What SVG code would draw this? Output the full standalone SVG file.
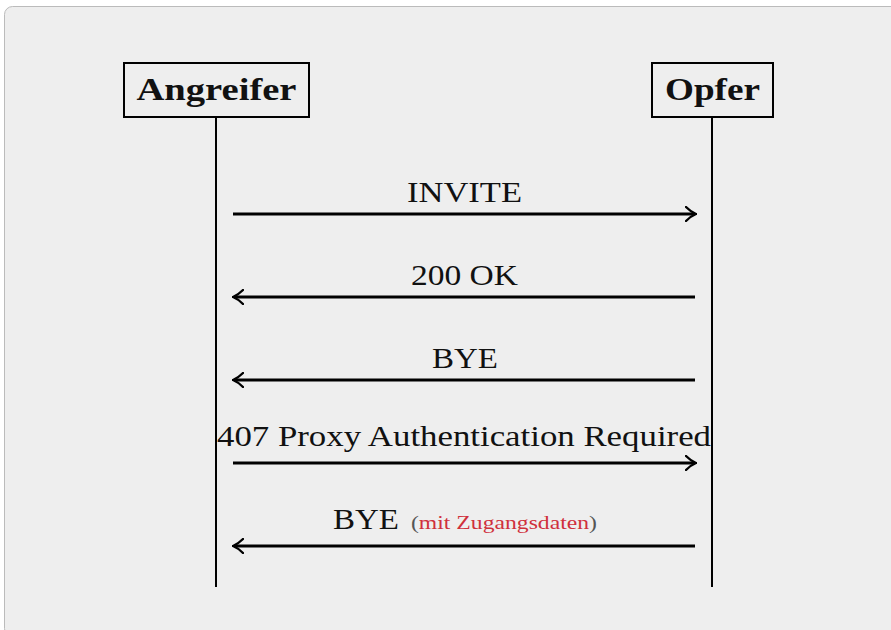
<svg xmlns="http://www.w3.org/2000/svg" width="891" height="630" viewBox="0 0 891 630">
<defs>
<marker id="ah" viewBox="0 0 12 16" refX="10" refY="8" markerWidth="12" markerHeight="16" markerUnits="userSpaceOnUse" orient="auto">
<path d="M1,1 Q6,6 11,8 Q6,10 1,15" fill="none" stroke="#000" stroke-width="2.4" stroke-linecap="round"/>
</marker>
</defs>
<style>
.actor{fill:#eeeeee;stroke:#000;stroke-width:2}
.name{font-family:"Liberation Serif","DejaVu Serif",serif;font-weight:bold;font-size:31px;fill:#111;text-anchor:middle}
.life{stroke:#000;stroke-width:2}
.msg{stroke:#000;stroke-width:3;fill:none;marker-end:url(#ah)}
.lbl{font-family:"Liberation Serif","DejaVu Serif",serif;font-size:30px;fill:#111;text-anchor:middle}
.note{font-family:"Liberation Serif","DejaVu Serif",serif;font-size:18px}
</style>
<rect x="4.5" y="6.5" width="900" height="630" rx="8" fill="#eeeeee" stroke="#bbbbbb" stroke-width="1"/>
<g id="angreifer">
<rect class="actor" x="124" y="63" width="185" height="54"/>
<text class="name" x="216.5" y="100" textLength="160" lengthAdjust="spacingAndGlyphs">Angreifer</text>
<line class="life" x1="216" y1="117" x2="216" y2="587"/>
</g>
<g id="opfer">
<rect class="actor" x="652" y="63" width="121" height="54"/>
<text class="name" x="712.5" y="100" textLength="95" lengthAdjust="spacingAndGlyphs">Opfer</text>
<line class="life" x1="712" y1="117" x2="712" y2="587"/>
</g>
<g id="connectors">
<line class="msg" x1="233" y1="214" x2="695" y2="214"/>
<text class="lbl" x="464.5" y="202" textLength="115" lengthAdjust="spacingAndGlyphs">INVITE</text>
<line class="msg" x1="695" y1="297" x2="234" y2="297"/>
<text class="lbl" x="464.5" y="285" textLength="107" lengthAdjust="spacingAndGlyphs">200 OK</text>
<line class="msg" x1="695" y1="380" x2="234" y2="380"/>
<text class="lbl" x="465" y="368" textLength="66" lengthAdjust="spacingAndGlyphs">BYE</text>
<line class="msg" x1="233" y1="463" x2="695" y2="463"/>
<text class="lbl" x="464" y="446" textLength="494" lengthAdjust="spacingAndGlyphs">407 Proxy Authentication Required</text>
<line class="msg" x1="695" y1="546" x2="234" y2="546"/>
<text class="lbl" x="333" y="529" style="text-anchor:start" textLength="66" lengthAdjust="spacingAndGlyphs">BYE</text>
<text class="note" x="411" y="529" fill="#555" textLength="186" lengthAdjust="spacingAndGlyphs"><tspan>(</tspan><tspan fill="#d0303c">mit Zugangsdaten</tspan><tspan>)</tspan></text>
</g>
</svg>
